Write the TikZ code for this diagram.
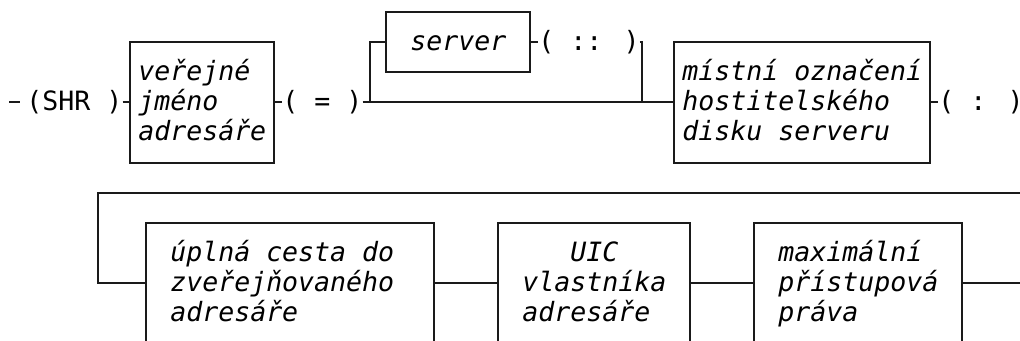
\documentclass[tikz,border=0pt]{standalone}
\usepackage{fontspec}
\newfontfamily\diagmono{DejaVu Sans Mono}[ItalicFont={DejaVu Sans Mono Oblique}]
\definecolor{ink}{HTML}{1A1A1A}
% three lines of a box label, on a fixed line pitch; baseline = first line
\newcommand\threelines[3]{\vtop{\baselineskip=22.575pt\lineskiplimit=-100pt\lineskip=0pt
  \hbox{#1}\hbox{#2}\hbox{#3}}}
\tikzset{
  stepbox/.style={draw=ink, line width=1.5pt, inner sep=0pt, outer sep=0pt,
    anchor=north west, minimum height=90.3pt},
  boxtext/.style={font=\diagmono\fontsize{19.93pt}{22.575pt}\selectfont\itshape,
    text=black, inner sep=0pt, anchor=base west},
  token/.style={font=\diagmono\fontsize{19.93pt}{22.575pt}\selectfont,
    text=black, inner sep=0pt, anchor=base west},
  rail/.style={draw=ink, line width=1.5pt},
}
\begin{document}
\begin{tikzpicture}[x=0.75pt,y=-0.75pt]
\useasboundingbox (0,0) rectangle (1020,340);
\clip (0,0) rectangle (1020,340);

% ---- first rail ----
\node[token] (shr) at (26,110.8) {(SHR )};
\node[stepbox, minimum width=108pt] (b1) at (130,42.1) {};
\node[boxtext] (t1) at (138,80.7) {\threelines{veřejné}{jméno}{adresáře}};
\node[token] (eq) at (282,110.8) {( = )};

\node[stepbox, minimum width=108pt, minimum height=45.15pt] (srv) at (386,12) {};
\node[boxtext] (srvt) at (410,50.6) {server};
\node[token] (dc) at (538,50.6) {( :: )};

\node[stepbox, minimum width=192pt] (m) at (674,42.1) {};
\node[boxtext] (mt) at (682,80.7) {\threelines{místní označení}{hostitelského}{disku serveru}};
\node[token] (cl) at (938,110.8) {( : )};

\coordinate (lead) at (9,102.3);
\coordinate (leadend) at (20,102.3);
\coordinate (jl) at (370,102.3);
\coordinate (jr) at (642,102.3);
\coordinate (out1) at (1030,102.3);

\draw[rail] (lead) -- (leadend);
\draw[rail] (shr.east |- b1.west) -- (b1.west);
\draw[rail] (b1.east) -- (eq.west |- b1.east);
\draw[rail] (eq.east |- jl) -- (jl) -- (jr) -- (m.west);
\draw[rail] (jl) |- (srv.west);
\draw[rail] (srv.east) -- (dc.west |- srv.east);
\draw[rail] (dc.east |- srv.east) -| (jr);
\draw[rail] (m.east) -- (cl.west |- m.east);
\draw[rail] (cl.east |- m.east) -- (out1);

% ---- second rail ----
\node[stepbox, minimum width=216pt] (p) at (146,222.7) {};
\node[boxtext] (pt) at (170,261.3) {\threelines{úplná cesta do}{zveřejňovaného}{adresáře}};
\node[stepbox, minimum width=144pt] (u) at (498,222.7) {};
\node[boxtext] (ut) at (522,261.3) {\threelines{\hphantom{vla}UIC}{vlastníka}{adresáře}};
\node[stepbox, minimum width=156pt] (x) at (754,222.7) {};
\node[boxtext] (xt) at (778,261.3) {\threelines{maximální}{přístupová}{práva}};

\coordinate (in2) at (1030,192.6);
\coordinate (turn) at (98,192.6);
\coordinate (out2) at (1030,282.9);

\draw[rail] (in2) -- (turn) |- (p.west);
\draw[rail] (p.east) -- (u.west);
\draw[rail] (u.east) -- (x.west);
\draw[rail] (x.east) -- (out2);
\end{tikzpicture}
\end{document}
